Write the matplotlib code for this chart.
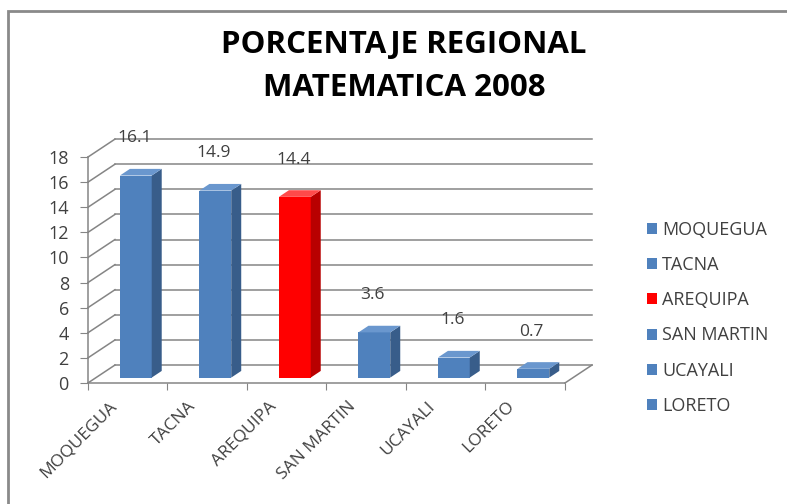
import numpy as np
import matplotlib.pyplot as plt
from matplotlib.patches import Polygon, Patch, Rectangle
from matplotlib.transforms import ScaledTranslation

plt.rcParams['font.family'] = ['Open Sans', 'DejaVu Sans']

""" data """
regions = ['MOQUEGUA', 'TACNA', 'AREQUIPA', 'SAN MARTIN', 'UCAYALI', 'LORETO']
values = [16.1, 14.9, 14.4, 3.6, 1.6, 0.7]
highlight = 'AREQUIPA'
yticks = [0, 2, 4, 6, 8, 10, 12, 14, 16, 18]

""" colours for the fake 3d look """
blue = ('#4F81BD', '#385D8A', '#6A97CE')
red = ('#FF0000', '#B80000', '#FF4A4A')
grid_c = '#858585'
text_c = '#404040'

# depth of the "3d" box, in data units
DX, DY = 0.34, 1.43
d0, d1 = 0.30, 0.67   # bar front / back depth (fraction of box)
bw = 0.40

fig = plt.figure(figsize=(7.87, 5.04), dpi=100)
# outer frame (only left and top edges are inside the picture)
fig.patches.append(Rectangle((8 / 787, -0.2), 1.2, 1.2 - 11 / 504, transform=fig.transFigure,
                             fill=False, edgecolor='#8A8A8A', lw=2))
ax = fig.add_axes([80 / 787, 0.2252, 524.75 / 787, 0.508])
ax.set_xlim(-0.1, 6.5)
ax.set_ylim(-0.6, 19.8)
ax.patch.set_visible(False)

n = len(regions)
top = max(yticks)

# back wall gridlines + left wall lines
for v in yticks:
    ax.plot([DX, n + DX], [v + DY, v + DY], color=grid_c, lw=1.1, zorder=1)
    ax.plot([0, DX], [v, v + DY], color=grid_c, lw=1.1, zorder=1)
# floor right edge
ax.plot([n, n + DX], [0, DY], color=grid_c, lw=1.1, zorder=1)

# bars: front faces via ax.bar, side and top faces as polygons
x = np.arange(n) + 0.5 - bw / 2 + d0 * DX
cols = [red if r == highlight else blue for r in regions]
ax.bar(x, values, width=bw, bottom=d0 * DY, align='edge',
       color=[c[0] for c in cols], zorder=3)
dd = (d1 - d0)
for xi, v, c in zip(x, values, cols):
    y0 = d0 * DY
    side = [(xi + bw, y0), (xi + bw + dd * DX, y0 + dd * DY),
            (xi + bw + dd * DX, y0 + v + dd * DY), (xi + bw, y0 + v)]
    topf = [(xi, y0 + v), (xi + bw, y0 + v),
            (xi + bw + dd * DX, y0 + v + dd * DY), (xi + dd * DX, y0 + v + dd * DY)]
    ax.add_patch(Polygon(side, closed=True, facecolor=c[1], edgecolor='none', zorder=3))
    ax.add_patch(Polygon(topf, closed=True, facecolor=c[2], edgecolor='none', zorder=3))
    ax.text(xi + bw / 2 - 0.02, v + 3.4, f'{v:.1f}', ha='center', va='center',
            fontsize=12.5, color=text_c, zorder=4)

# axes
for s in ['top', 'right']:
    ax.spines[s].set_visible(False)
ax.spines['left'].set_position(('data', 0))
ax.spines['bottom'].set_position(('data', 0))
ax.spines['left'].set_bounds(0, top)
ax.spines['bottom'].set_bounds(0, n)
ax.spines['left'].set_color(grid_c)
ax.spines['bottom'].set_color(grid_c)
ax.spines['left'].set_linewidth(1.1)
ax.spines['bottom'].set_linewidth(1.1)

ax.set_yticks(yticks)
ax.set_yticklabels([str(t) for t in yticks])
ax.tick_params(axis='y', colors=grid_c, labelcolor=text_c, labelsize=13, length=5.8, pad=8)

ax.set_xticks(np.arange(n + 1))
ax.set_xticklabels([])
ax.set_xticks(np.arange(n) + 0.5, minor=True)
ax.set_xticklabels(regions, minor=True, rotation=45, ha='right', va='top',
                   rotation_mode='anchor')
ax.tick_params(axis='x', which='major', colors=grid_c, length=5)
ax.tick_params(axis='x', which='minor', length=0, labelcolor=text_c, labelsize=12.5, pad=11)
off = ScaledTranslation(-0.19, 0, fig.dpi_scale_trans)
for lab in ax.get_xticklabels(minor=True):
    lab.set_transform(lab.get_transform() + off)

# title
fig.text(404 / 787, 1 - 45 / 504, 'PORCENTAJE REGIONAL', ha='center', va='center',
         fontsize=22.5, fontweight='bold', color='black')
fig.text(404 / 787, 1 - 88 / 504, 'MATEMATICA 2008', ha='center', va='center',
         fontsize=22.5, fontweight='bold', color='black')

# legend
handles = [Patch(facecolor=c[0], edgecolor='none') for c in cols]
fig.legend(handles, regions, loc='upper left', bbox_to_anchor=(647 / 787, 1 - 221 / 504),
           frameon=False, fontsize=13, labelcolor=text_c, handlelength=0.55,
           handleheight=0.55, handletextpad=0.3, labelspacing=0.95, borderpad=0,
           borderaxespad=0)

plt.savefig('out.png', dpi=100)
